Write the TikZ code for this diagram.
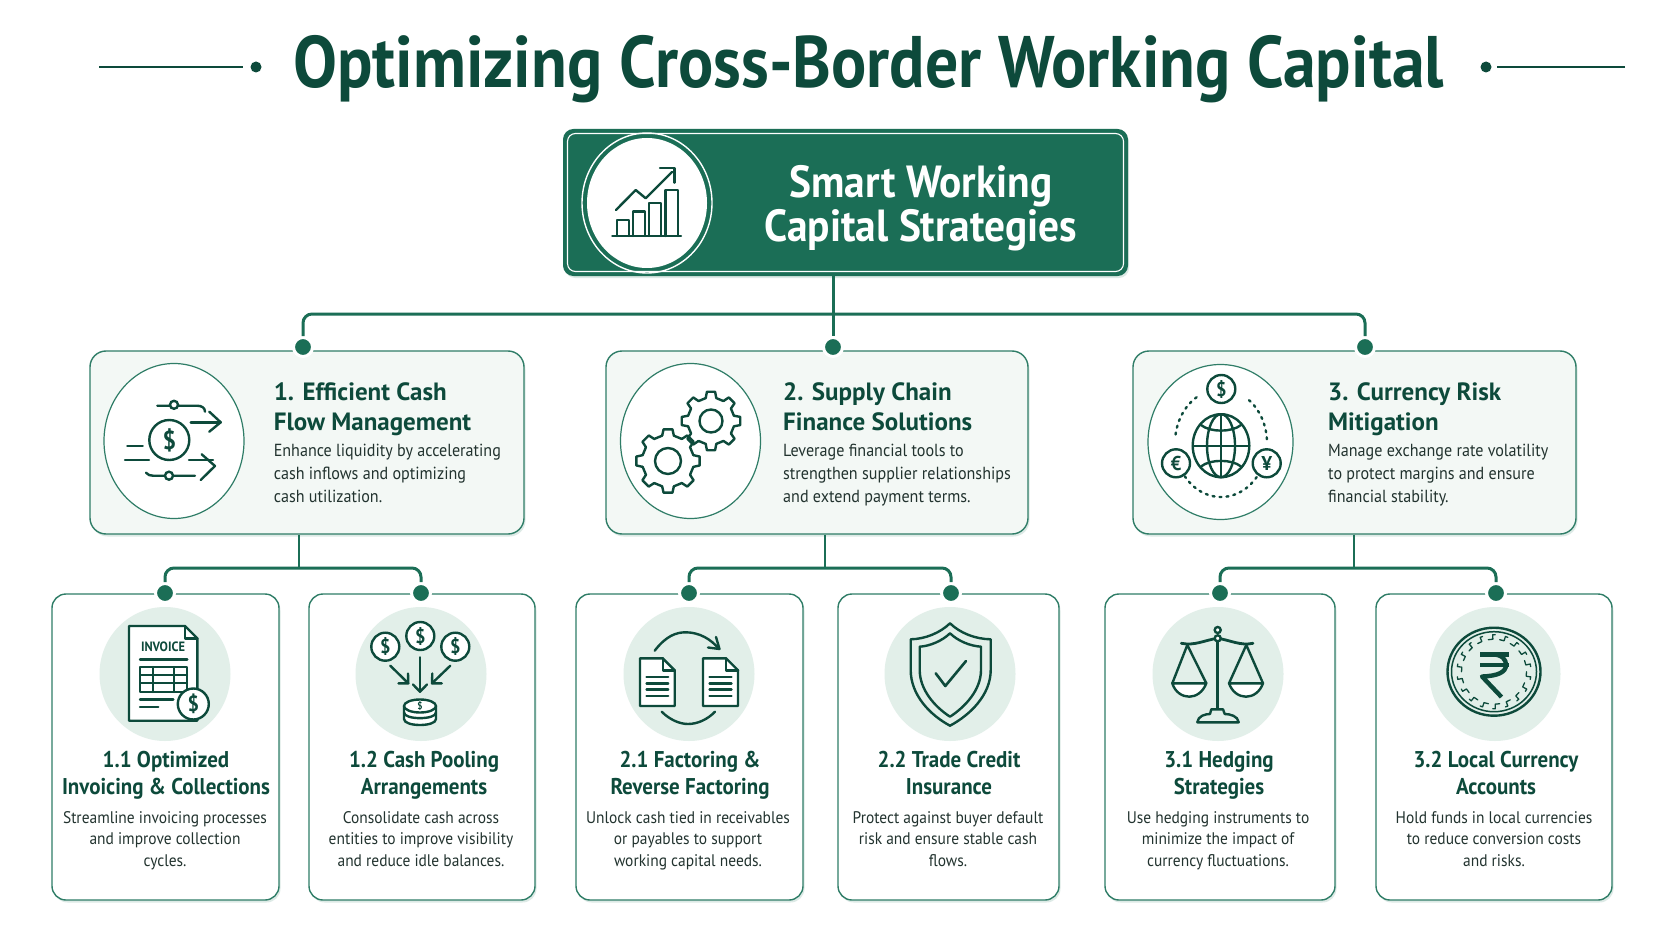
\documentclass[tikz,border=0pt]{standalone}
\usepackage{fontspec}
\usetikzlibrary{shapes.geometric,shadows}
\setmainfont{PT Sans}
\newfontfamily\pagefont[FakeStretch=0.90]{PT Sans}
\newfontfamily\headfont[FakeStretch=0.92]{PT Sans}
\newfontfamily\groupfont[FakeStretch=1.0]{PT Sans}
\newfontfamily\bodyfont[FakeStretch=0.92]{PT Sans}
\definecolor{deepgreen}{HTML}{0D4A3B}
\definecolor{maingreen}{HTML}{1B6E56}
\definecolor{edgegreen}{HTML}{2F7D67}
\definecolor{palegreen}{HTML}{E2EFE9}
\definecolor{panelgreen}{HTML}{F3F8F5}
\definecolor{bodygrey}{HTML}{22332F}
\tikzset{
  softshadow/.style={drop shadow={shadow xshift=1.5pt,shadow yshift=-2.5pt,opacity=.16,fill=edgegreen}},
  rootbox/.style={draw=maingreen,fill=maingreen,rounded corners=10pt,line width=1pt,minimum width=564pt,minimum height=146pt,inner sep=0pt,softshadow},
  rootline/.style={draw=white,rounded corners=8pt,line width=1.1pt,minimum width=556pt,minimum height=138pt,inner sep=0pt},
  groupbox/.style={draw=edgegreen,fill=panelgreen,rounded corners=16pt,line width=1.4pt,minimum height=183pt,inner sep=0pt,softshadow},
  leafbox/.style={draw=edgegreen,fill=white,rounded corners=14pt,line width=1.4pt,minimum height=306pt,inner sep=0pt,softshadow},
  groupdisc/.style={ellipse,draw=edgegreen,fill=white,line width=1.2pt,minimum height=155pt,inner sep=0pt},
  leafdisc/.style={ellipse,fill=palegreen,minimum width=131pt,minimum height=134pt,inner sep=0pt},
  joint/.style={circle,fill=maingreen,draw=white,line width=3pt,minimum size=19pt,inner sep=0pt},
  link/.style={draw=maingreen,line width=3pt,rounded corners=9pt},
  stem/.style={draw=maingreen,line width=2.2pt},
  iconline/.style={draw=deepgreen,line width=2.4pt,line cap=round,line join=round},
  thinicon/.style={draw=deepgreen,line width=1.3pt,line cap=round,line join=round},
  coinmark/.style={circle,draw=deepgreen,fill=white,line width=2.4pt,inner sep=0pt,text=deepgreen},
  pagetitle/.style={anchor=base,inner sep=0pt,text=deepgreen,font=\pagefont\bfseries\fontsize{73}{73}\selectfont},
  roottitle/.style={anchor=base,inner sep=0pt,text=white,align=center,font=\headfont\bfseries\fontsize{45}{44}\selectfont},
  grouptitle/.style={anchor=base west,inner sep=0pt,text=deepgreen,align=left,font=\groupfont\bfseries\fontsize{25}{30}\selectfont},
  groupnote/.style={anchor=base west,inner sep=0pt,text=bodygrey,align=left,font=\bodyfont\fontsize{17.5}{23}\selectfont},
  leaftitle/.style={anchor=base,inner sep=0pt,text=deepgreen,align=center,font=\headfont\bfseries\fontsize{22.8}{27}\selectfont},
  leafnote/.style={anchor=base,inner sep=0pt,text=bodygrey,align=center,font=\bodyfont\fontsize{16.8}{21.5}\selectfont},
}
\newcommand{\coinat}[6]{\node[coinmark,minimum size=#4pt,font=\headfont\bfseries\fontsize{#5}{#5}\selectfont] (#1) at (#2,#3) {#6};}
\newcommand{\gearicon}[5]{
  \begin{scope}[shift={(#1,#2)}]
    \foreach \a in {0,45,...,315}{
      \draw[iconline] (\a-13:#3) -- (\a-8:#4) -- (\a+8:#4) -- (\a+13:#3) -- (\a+32:#3);
    }
    \draw[iconline] (0,0) circle (#5);
  \end{scope}
}
\newcommand{\docicon}[4]{
  \draw[iconline,fill=white] (#1,#2) -- (#3-12,#2) -- (#3,#2+12) -- (#3,#4) -- (#1,#4) -- cycle;
  \draw[iconline] (#3-12,#2) -- (#3-12,#2+12) -- (#3,#2+12);
  \foreach \l in {18.5,25,31,37.5}{
    \draw[iconline] (#1+6.5,#2+\l) -- (#3-6.5,#2+\l);
  }
}
\begin{document}
\begin{tikzpicture}[x=1pt,y=-1pt]
\useasboundingbox (0,0) rectangle (1672,941);
\fill[white] (0,0) rectangle (1672,941);

% title
\coordinate (tl) at (99,67);
\coordinate (tr) at (1625,67);
\node[circle,fill=deepgreen,minimum size=11pt,inner sep=0pt] (tdl) at (256,67) {};
\node[circle,fill=deepgreen,minimum size=11pt,inner sep=0pt] (tdr) at (1486,67) {};
\draw[stem,draw=deepgreen,line width=1.6pt] (tl) -- ++(144,0);
\draw[stem,draw=deepgreen,line width=1.6pt] (tr) -- ++(-128,0);
\node[pagetitle] (ptitle) at (868.5,87.5) {Optimizing Cross-Border Working Capital};

% root
\node[rootbox] (root) at (845.5,202.5) {};
\node[rootline] (rootin) at (845.5,202.5) {};
\node[ellipse,draw=white,line width=1.4pt,minimum width=130pt,minimum height=140pt,inner sep=0pt] (rootring) at (647,203) {};
\node[ellipse,fill=white,minimum width=120pt,minimum height=130pt,inner sep=0pt] (rootdisc) at (647,203) {};
\node[roottitle] (rootlabel) at (921,242) {Smart Working\\Capital Strategies};
\draw[iconline] (612.3,236) -- (681,236);
\draw[iconline] (616.7,236) -- (616.7,220) -- (629,220) -- (629,236);
\draw[iconline] (632.7,236) -- (632.7,211.7) -- (645,211.7) -- (645,236);
\draw[iconline] (649,236) -- (649,203.3) -- (661,203.3) -- (661,236);
\draw[iconline] (665.3,236) -- (665.3,190) -- (677.7,190) -- (677.7,236);
\draw[iconline] (616,210) -- (635.7,190) -- (645.7,198.3) -- (672,172);
\draw[iconline] (660,168.3) -- (674.3,168.3) -- (674.3,182.7);

% second level
\node[groupbox,minimum width=434pt] (b1) at (307,442.5) {};
\node[groupbox,minimum width=422pt] (b2) at (817,442.5) {};
\node[groupbox,minimum width=443pt] (b3) at (1354.5,442.5) {};
\node[joint] (d1) at (303,347) {};
\node[joint] (d2) at (833,347) {};
\node[joint] (d3) at (1365,347) {};
\coordinate (j0) at (833,314);
\draw[stem,line width=3pt] (root.south -| d2) -- (d2);
\draw[link] (d1) |- (j0) -| (d3);

\node[groupdisc,minimum width=140pt] (g1) at (174,441) {};
\node[groupdisc,minimum width=140pt] (g2) at (690.5,441) {};
\node[groupdisc,minimum width=145pt] (g3) at (1220.5,442) {};

\node[grouptitle] (t1) at (273.6,430) {1. Efficient Cash\\Flow Management};
\node[groupnote] (n1) at (273.6,502.5) {Enhance liquidity by accelerating\\cash inflows and optimizing\\cash utilization.};
\node[grouptitle] (t2) at (783,430) {2. Supply Chain\\Finance Solutions};
\node[groupnote] (n2) at (783,502.5) {Leverage financial tools to\\strengthen supplier relationships\\and extend payment terms.};
\node[grouptitle] (t3) at (1328,430) {3. Currency Risk\\Mitigation};
\node[groupnote] (n3) at (1328,502.5) {Manage exchange rate volatility\\to protect margins and ensure\\financial stability.};

% cash flow icon
\coinat{cf}{169.3}{440}{40}{26}{\$}
\draw[iconline] (157.3,405.7) -- (197,405.7) .. controls (202,405.7) and (205,408) .. (205,411.7);
\node[coinmark,minimum size=8pt] (cfa) at (174,404.8) {};
\draw[iconline] (190.7,422.3) -- (220.7,422.3);
\draw[iconline] (209.3,411.7) -- (220.7,422.3) -- (209.3,431.7);
\draw[iconline] (127.3,445.7) -- (142.7,445.7);
\draw[iconline] (125,460) -- (149,460);
\draw[iconline] (189,460) -- (213,460);
\draw[iconline] (201.7,454.3) -- (215,466) -- (200.7,480);
\draw[iconline] (146,472.7) .. controls (148,475) and (150,475.7) .. (153,475.7) -- (195,475.7);
\node[coinmark,minimum size=8pt] (cfb) at (169,475.7) {};

% gears
\gearicon{668}{461}{26}{32}{13}
\gearicon{711}{421}{23.5}{29.5}{11.5}

% globe
\draw[iconline,fill=white] (1221,445.7) ellipse [x radius=28.3,y radius=31.5];
\draw[iconline] (1221,445.7) ellipse [x radius=14,y radius=31.5];
\draw[iconline] (1221,414.2) -- (1221,477.2);
\draw[iconline] (1192.7,445.7) -- (1249.3,445.7);
\draw[iconline] (1201,425) .. controls (1210,432.5) and (1232,432.5) .. (1241,425);
\draw[iconline] (1201,466.5) .. controls (1210,459) and (1232,459) .. (1241,466.5);
\draw[iconline,dash pattern=on 2pt off 5pt] plot[domain=122:176,samples=20] ({1221+46*cos(\x)},{443-54*sin(\x)});
\draw[iconline,dash pattern=on 2pt off 5pt] plot[domain=218:322,samples=30] ({1221+46*cos(\x)},{443-54*sin(\x)});
\draw[iconline,dash pattern=on 2pt off 5pt] plot[domain=4:58,samples=20] ({1221+46*cos(\x)},{443-54*sin(\x)});
\coinat{gd}{1221.3}{389}{28}{20}{\$}
\coinat{ge}{1176}{463.3}{28}{20}{€}
\coinat{gy}{1266.7}{463.3}{28}{20}{¥}

% third level
\node[leafbox,minimum width=227pt] (c1) at (165.5,747) {};
\node[leafbox,minimum width=226pt] (c2) at (422,747) {};
\node[leafbox,minimum width=227pt] (c3) at (689.5,747) {};
\node[leafbox,minimum width=221pt] (c4) at (948.5,747) {};
\node[leafbox,minimum width=230pt] (c5) at (1220,747) {};
\node[leafbox,minimum width=236pt] (c6) at (1494,747) {};

\node[joint] (e1) at (165,593) {};
\node[joint] (e2) at (421,593) {};
\node[joint] (e3) at (689,593) {};
\node[joint] (e4) at (951,593) {};
\node[joint] (e5) at (1220,593) {};
\node[joint] (e6) at (1496,593) {};
\coordinate (j1) at (299,568);
\coordinate (j2) at (825,568);
\coordinate (j3) at (1354,568);
\draw[stem] (b1.south -| j1) -- (j1);
\draw[stem] (b2.south -| j2) -- (j2);
\draw[stem] (b3.south -| j3) -- (j3);
\draw[link] (e1) |- (j1) -| (e2);
\draw[link] (e3) |- (j2) -| (e4);
\draw[link] (e5) |- (j3) -| (e6);

\node[leafdisc] (p1) at (165,674) {};
\node[leafdisc] (p2) at (421,674) {};
\node[leafdisc] (p3) at (689,674) {};
\node[leafdisc] (p4) at (950,674) {};
\node[leafdisc] (p5) at (1218,674) {};
\node[leafdisc] (p6) at (1495,674) {};

\node[leaftitle] (lt1) at (166,794) {1.1 Optimized\\Invoicing \& Collections};
\node[leafnote] (ln1) at (165,866) {Streamline invoicing processes\\and improve collection\\cycles.};
\node[leaftitle] (lt2) at (424,794) {1.2 Cash Pooling\\Arrangements};
\node[leafnote] (ln2) at (421,866) {Consolidate cash across\\entities to improve visibility\\and reduce idle balances.};
\node[leaftitle] (lt3) at (690,794) {2.1 Factoring \&\\Reverse Factoring};
\node[leafnote] (ln3) at (688,866) {Unlock cash tied in receivables\\or payables to support\\working capital needs.};
\node[leaftitle] (lt4) at (949,794) {2.2 Trade Credit\\Insurance};
\node[leafnote] (ln4) at (948,866) {Protect against buyer default\\risk and ensure stable cash\\flows.};
\node[leaftitle] (lt5) at (1219,794) {3.1 Hedging\\Strategies};
\node[leafnote] (ln5) at (1218,866) {Use hedging instruments to\\minimize the impact of\\currency fluctuations.};
\node[leaftitle] (lt6) at (1496,794) {3.2 Local Currency\\Accounts};
\node[leafnote] (ln6) at (1494,866) {Hold funds in local currencies\\to reduce conversion costs\\and risks.};

% invoice
\draw[iconline,fill=white] (129,626) -- (185,626) -- (197.3,638.3) -- (197.3,720.7) -- (129,720.7) -- cycle;
\draw[iconline] (185,626) -- (185,638.3) -- (197.3,638.3);
\node[text=deepgreen,inner sep=0pt,font=\headfont\bfseries\fontsize{13.5}{14}\selectfont] (inv) at (163,646.7) {INVOICE};
\draw[iconline] (140,659.3) -- (187.3,659.3);
\draw[thinicon,line width=1.8pt] (140,666.7) rectangle (187.3,692.3);
\draw[thinicon,line width=1.8pt] (140,675) -- (187.3,675);
\draw[thinicon,line width=1.8pt] (140,683.3) -- (187.3,683.3);
\draw[thinicon,line width=1.8pt] (152.7,666.7) -- (152.7,692.3);
\draw[thinicon,line width=1.8pt] (174,666.7) -- (174,692.3);
\draw[iconline] (140,699.3) -- (173.3,699.3);
\draw[iconline] (140,706.7) -- (158.3,706.7);
\coinat{ic}{193.3}{704}{31}{22}{\$}

% pooling
\coinat{pa}{385.3}{646.7}{28}{20}{\$}
\coinat{pb}{420.3}{636}{28}{20}{\$}
\coinat{pc}{455.3}{646.7}{28}{20}{\$}
\draw[iconline] (390.3,665.7) -- (408.3,683.3);
\draw[iconline] (408,673.5) -- (408.3,683.3) -- (398.5,683.3);
\draw[iconline] (420,657.3) -- (420,691.7);
\draw[iconline] (413,684.5) -- (420,691.7) -- (427,684.5);
\draw[iconline] (450.3,665.7) -- (432,683.3);
\draw[iconline] (432.3,673.5) -- (432,683.3) -- (441.8,683.3);
\draw[iconline,fill=white] (404,706) -- (404,719) .. controls (404,727) and (436,727) .. (436,719) -- (436,706);
\draw[iconline] (404,712.5) .. controls (404,720) and (436,720) .. (436,712.5);
\draw[iconline,fill=white] (420,706) ellipse [x radius=16,y radius=6.5];
\node[text=deepgreen,inner sep=0pt,font=\headfont\bfseries\fontsize{10}{10}\selectfont] (pd) at (420,705.5) {\$};

% factoring
\docicon{640}{658.3}{674.7}{706}
\docicon{703}{658.3}{738}{706}
\draw[iconline] (654.7,650.7) .. controls (666,636) and (676,632.3) .. (685.7,632.3) .. controls (699,632.3) and (711,639) .. (719,649);
\draw[iconline] (716,637) -- (719.5,649) -- (708,647.5);
\draw[iconline] (661.7,711.7) .. controls (670,720) and (680,724) .. (688,724) .. controls (698,724) and (708,719) .. (715,711.7);

% shield
\draw[iconline] (950,623.3) .. controls (960,633) and (975,639) .. (990.7,639.3) -- (990.7,670) .. controls (990.7,695) and (970,715) .. (950,725.7) .. controls (930,715) and (910.7,695) .. (910.7,670) -- (910.7,639.3) .. controls (925,639) and (940,633) .. cycle;
\draw[iconline] (950,633.3) .. controls (958,641) and (970,646) .. (981,646.7) -- (981,670) .. controls (981,690) and (965,707) .. (950,716.7) .. controls (935,707) and (919.7,690) .. (919.7,670) -- (919.7,646.7) .. controls (930,646) and (942,641) .. cycle;
\draw[iconline,line width=2.6pt] (935.7,673.3) -- (945.3,686) -- (966,661);

% scales
\draw[iconline] (1217.5,638.3) -- (1217.5,709.3);
\draw[iconline,line width=2.8pt] (1181.3,643.3) .. controls (1195,646) and (1205,640) .. (1217.5,638.3) .. controls (1230,640) and (1240,646) .. (1253,643.3);
\node[coinmark,minimum size=6pt] (sa) at (1217.7,630) {};
\node[coinmark,minimum size=6pt] (sb) at (1217.7,638.3) {};
\draw[iconline] (1172.3,683.3) -- (1187.3,645) -- (1206.3,683.3);
\draw[iconline] (1229,683.3) -- (1246.3,645) -- (1263,683.3);
\draw[iconline,fill=white] (1172.3,683.3) -- (1206.3,683.3) .. controls (1203,692) and (1196,696.7) .. (1189.3,696.7) .. controls (1182,696.7) and (1175,692) .. cycle;
\draw[iconline,fill=white] (1229,683.3) -- (1263,683.3) .. controls (1260,692) and (1253,696.7) .. (1246,696.7) .. controls (1239,696.7) and (1232,692) .. cycle;
\draw[iconline,fill=palegreen] (1197.3,722.3) -- (1238.7,722.3) .. controls (1238,716) and (1230,714) .. (1224.7,714) -- (1223,709.3) -- (1211.3,709.3) -- (1210,714) .. controls (1205,714) and (1198,716) .. cycle;

% rupee coin
\draw[iconline] (1494,671.7) ellipse [x radius=46.5,y radius=44];
\draw[iconline,line width=1.5pt] (1494,671.7) ellipse [x radius=42.5,y radius=40];
\begin{scope}[shift={(1494,671.7)}]
  \foreach \a in {0,20,...,340}{
    \draw[thinicon] (\a:32.5) -- (\a+8:32.5) -- (\a+8:37) -- (\a+12:37);
  }
\end{scope}
\draw[iconline,line width=4.4pt,line cap=butt] (1480,654.3) -- (1509.3,654.3);
\draw[iconline,line width=4.4pt,line cap=butt] (1480,665) -- (1509.3,665);
\draw[iconline,line width=4.4pt,line cap=butt] (1491,654.3) .. controls (1503,654.3) and (1506,660) .. (1506,665) .. controls (1506,672) and (1498,676) .. (1482,676.5) -- (1501.5,697);

\end{tikzpicture}
\end{document}
